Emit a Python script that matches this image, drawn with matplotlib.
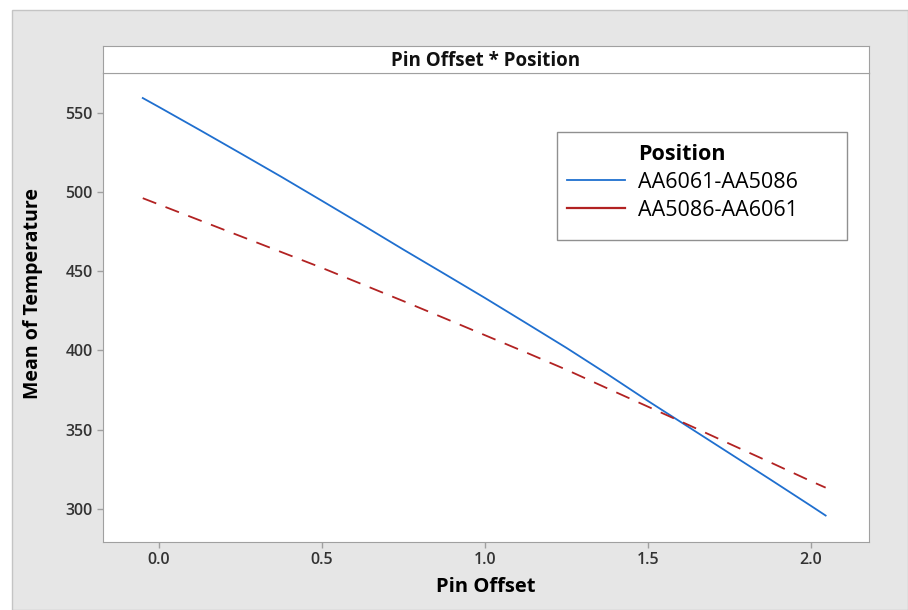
import matplotlib.pyplot as plt
from matplotlib.patches import Rectangle
from matplotlib.lines import Line2D

plt.rcParams['font.family'] = ['Open Sans', 'DejaVu Sans']

# values
pin_offset = [-0.05, 0.0, 0.125, 0.25, 0.375, 0.5, 0.625, 0.75, 0.875, 1.0,
              1.125, 1.25, 1.375, 1.5, 1.625, 1.75, 1.875, 2.0, 2.045]
temp_6061_5086 = [559.2, 553.5, 539.0, 524.3, 509.5, 494.3, 479.0, 463.5, 448.3, 433.0,
                  417.3, 401.5, 385.0, 368.0, 351.5, 335.0, 318.5, 301.8, 295.7]
temp_5086_6061 = [496.0, 492.0, 482.0, 472.0, 462.0, 452.0, 441.5, 431.0, 420.3, 409.5,
                  398.7, 387.7, 376.0, 364.4, 352.8, 341.0, 329.3, 317.4, 313.3]
positions = ['AA6061-AA5086', 'AA5086-AA6061']
xticks = [0.0, 0.5, 1.0, 1.5, 2.0]
yticks = [300, 350, 400, 450, 500, 550]

W, H = 908, 610
fig = plt.figure(figsize=(W / 100, H / 100), dpi=100)
fig.patch.set_facecolor('white')

# grey background panel
fig.patches.append(Rectangle((12 / W, 0), 1 - 12 / W, 1 - 10 / H, transform=fig.transFigure,
                             facecolor='#e6e6e6', edgecolor='#c4c4c4', lw=1, zorder=-10))

l, r, b, t = 103, 869, 542, 73
ax = fig.add_axes([l / W, 1 - b / H, (r - l) / W, (b - t) / H])
ax.set_facecolor('white')

ax.plot(pin_offset, temp_6061_5086, color='#1f6fcf', lw=1.3)
ax.plot(pin_offset, temp_5086_6061, color='#b22222', lw=1.3, ls=(0, (8, 5.5)))

ax.set_xlim(-0.172, 2.178)
ax.set_ylim(279, 575)
ax.set_xticks(xticks)
ax.set_xticklabels([f'{v:.1f}' for v in xticks])
ax.set_yticks(yticks)
for s in ax.spines.values():
    s.set_color('#a0a0a0')
ax.tick_params(colors='#a0a0a0', labelcolor='#333333', labelsize=11.5, length=4, width=1)
for lab in ax.get_xticklabels() + ax.get_yticklabels():
    lab.set_fontweight('semibold')

ax.set_xlabel('Pin Offset', fontsize=14.5, fontweight='bold', labelpad=6)
ax.set_ylabel('Mean of Temperature', fontsize=14, fontweight='bold')
ax.yaxis.set_label_coords(-0.078, 0.53)

# title strip
strip = fig.add_axes([l / W, 1 - t / H, (r - l) / W, (t - 46) / H])
strip.set_xticks([])
strip.set_yticks([])
for s in strip.spines.values():
    s.set_color('#a0a0a0')
strip.text(0.5, 0.45, 'Pin Offset * Position', ha='center', va='center',
           fontsize=13.5, fontweight='bold', color='#111111')

# legend box, drawn separately so the bottom margin can be larger
ax.add_patch(Rectangle((557 / W, 1 - 240 / H), 290 / W, 108 / H, transform=fig.transFigure,
                       facecolor='white', edgecolor='#909090', lw=1, zorder=3))

# first row holds the title so it lines up with the labels
handles = [Line2D([], [], color='none'),
           Line2D([], [], color='#1f6fcf', lw=1.3),
           Line2D([], [], color='#b22222', lw=1.6)]
leg = ax.legend(handles, ['Position'] + positions, loc='upper left',
                bbox_to_anchor=(557 / W, 1 - 134 / H), bbox_transform=fig.transFigure,
                fontsize=15.5, handlelength=2.7, handletextpad=0.6,
                borderpad=0.45, borderaxespad=0, labelspacing=0.33, frameon=False)
leg.set_zorder(5)
leg.get_texts()[0].set_fontweight('bold')

fig.savefig('out.png', dpi=100, facecolor=fig.get_facecolor())
